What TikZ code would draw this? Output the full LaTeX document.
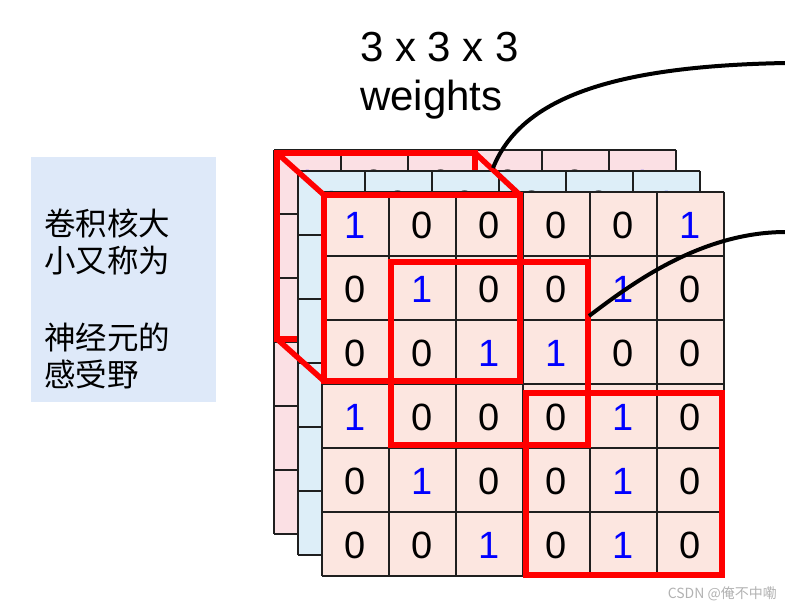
\documentclass[tikz,border=0pt]{standalone}
\usepackage{fontspec}
\setmainfont{Liberation Sans}
\newfontfamily\cjk{Noto Sans CJK SC}
\definecolor{frontfill}{HTML}{FCE6E0}
\definecolor{midfill}{HTML}{DDEEF8}
\definecolor{backfill}{HTML}{FBE0E4}
\definecolor{leftfill}{HTML}{DEE9F9}
\definecolor{digitcolor1}{HTML}{0000FF}
\definecolor{digitcolor0}{HTML}{000000}
\newcommand\drawlayer[4]{%
  \fill[#4] (#2,#3) rectangle ++(402,384);
  \foreach \row [count=\r from 0] in {{1,0,0,0,0,1},{0,1,0,0,1,0},{0,0,1,1,0,0},{1,0,0,0,1,0},{0,1,0,0,1,0},{0,0,1,0,1,0}}{
    \foreach \v [count=\c from 0] in \row {
      \node[digit, text=digitcolor\v] (#1-\r-\c) at (#2+33.5+67*\c, #3+33+64*\r) {\v};
    }
  }
  \foreach \i in {0,...,6} \draw[gridline] (#2+67*\i,#3) -- ++(0,384);
  \foreach \j in {0,...,6} \draw[gridline] (#2,#3+64*\j) -- ++(402,0);
}
\begin{document}
\begin{tikzpicture}[x=1pt,y=-1pt,
  gridline/.style={draw=black!88, line width=1.5pt, line cap=square},
  redbox/.style={draw=red, line width=5.5pt, rectangle, inner sep=0pt, outer sep=0pt},
  redline/.style={draw=red, line width=5.5pt, line cap=round},
  digit/.style={font=\fontsize{38}{38}\selectfont, inner sep=0pt},
  wire/.style={line width=4pt, black},
  title/.style={font=\fontsize{42}{42}\selectfont, inner sep=0pt, anchor=base west},
  cjkline/.style={font=\cjk\fontsize{31.5}{31.5}\selectfont, inner sep=0pt, anchor=base west}]
\useasboundingbox (0,0) rectangle (785,609);

% left note box
\node[fill=leftfill, minimum width=185pt, minimum height=245pt, inner sep=0pt, anchor=north west] (lbox) at (31,157) {};
\node[cjkline] (l1) at (44,236) {卷积核大};
\node[cjkline] (l2) at (44,273) {小又称为};
\node[cjkline] (l3) at (44,350) {神经元的};
\node[cjkline] (l4) at (44,387) {感受野};

% title
\node[title] (t1) at (360,62) {3 x 3 x 3};
\node[title] (t2) at (360,111) {weights};

% back layer
\drawlayer{back}{274}{150}{backfill}
\node[redbox, minimum width=198pt, minimum height=186pt] (bk) at (376,246) {};
% middle layer
\drawlayer{mid}{298}{171}{midfill}
% front layer
\drawlayer{front}{322}{192}{frontfill}

% front red boxes
\node[redbox, minimum width=196pt, minimum height=186pt] (f1) at (422,288) {};
\node[redbox, minimum width=197pt, minimum height=183pt] (f2) at (489.5,353.5) {};
\node[redbox, minimum width=196pt, minimum height=182pt] (f3) at (624,484) {};

% perspective edges
\draw[redline] (bk.north west) -- (f1.north west);
\draw[redline] (bk.north east) -- (f1.north east);
\draw[redline] (bk.south west) -- (f1.south west);

% wires
\coordinate (w1a) at (493,168);
\coordinate (w1b) at (786,63);
\coordinate (w2a) at (589,316);
\coordinate (w2b) at (786,232);
\draw[wire] (w1a) .. controls (522,95) and (620,66) .. (w1b);
\draw[wire] (w2a) .. controls (630,285) and (700,232) .. (w2b);

% watermark
\node[font=\cjk\fontsize{14}{14}\selectfont, text=black!30, inner sep=0pt, anchor=base east] (wm) at (777,598) {CSDN @俺不中嘞};
\end{tikzpicture}
\end{document}
